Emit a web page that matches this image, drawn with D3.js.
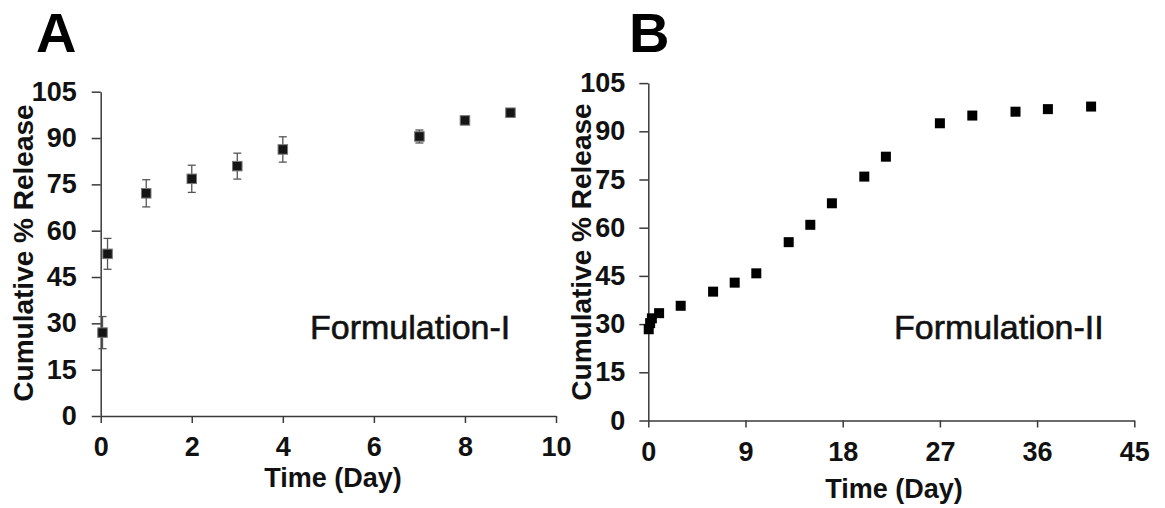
<!DOCTYPE html>
<html>
<head>
<meta charset="utf-8">
<script src="https://cdn.jsdelivr.net/npm/d3@7"></script>
<style>
  body { margin: 0; background: #fff; }
  svg { display: block; font-family: "Liberation Sans", Arial, sans-serif; }
</style>
</head>
<body>
<div class="chart"></div>
<script>
// Panel A - Formulation-I (mean with error)
const daysA = [0.04, 0.15, 1, 2, 3, 4, 7, 8, 9]
const releaseA = [27.0, 52.5, 72.1, 76.8, 80.9, 86.3, 90.5, 95.7, 98.2]
const errA = [5.2, 5.0, 4.4, 4.4, 4.2, 4.1, 2.1, 0.8, 0.6]

// Panel B - Formulation-II
const daysB = [0.04, 0.17, 0.33, 1, 3, 6, 8, 10, 13, 15, 17, 20, 22, 27, 30, 34, 37, 41]
const releaseB = [28.4, 30.3, 31.8, 33.4, 35.7, 40.1, 42.9, 45.8, 55.5, 60.9, 67.6, 75.9, 82.1, 92.5, 94.9, 96.1, 96.9, 97.7]

const yTicks = [0, 15, 30, 45, 60, 75, 90, 105]
const xTicksA = [0, 2, 4, 6, 8, 10]
const xTicksB = [0, 9, 18, 27, 36, 45]

const svgWidth = 1165
      svgHeight = 508
const svg = d3.select(".chart")
              .append('svg')
              .attr('width', svgWidth)
              .attr('height', svgHeight)

function panel(cfg) {
  const g = svg.append('g')

  const xScale = d3.scaleLinear().domain(cfg.xDomain).range(cfg.xRange)
  const yScale = d3.scaleLinear().domain([0, 105]).range(cfg.yRange)

  // x axis
  const xAxis = d3.axisBottom(xScale)
                  .tickValues(cfg.xTicks)
                  .tickSize(7)
                  .tickSizeOuter(0)
                  .tickPadding(14)
  g.append('g')
   .attr('transform', `translate(0, ${cfg.yRange[0]})`)
   .call(xAxis)

  // y axis
  const yAxis = d3.axisLeft(yScale)
                  .tickValues(yTicks)
                  .tickSize(9)
                  .tickSizeOuter(0)
                  .tickPadding(cfg.yPad)
  g.append('g')
   .attr('transform', `translate(${cfg.xRange[0]}, 0)`)
   .call(yAxis)

  g.selectAll('.domain, .tick line')
   .attr('stroke', '#3a3a3a')
   .attr('stroke-width', 1.5)
  g.selectAll('.tick text')
   .attr('fill', '#111')
   .style('font-size', '27px')
   .style('font-weight', 'bold')

  // axis titles
  g.append('text')
   .attr('x', cfg.xTitle[0])
   .attr('y', cfg.xTitle[1])
   .attr('text-anchor', 'middle')
   .style('font-size', '27px')
   .style('font-weight', 'bold')
   .attr('fill', '#111')
   .text('Time (Day)')

  g.append('text')
   .attr('transform', `translate(${cfg.yTitle[0]}, ${cfg.yTitle[1]}) rotate(-90)`)
   .attr('text-anchor', 'middle')
   .style('font-size', '28px')
   .style('font-weight', 'bold')
   .attr('fill', '#111')
   .text('Cumulative % Release')

  // panel letter
  g.append('text')
   .attr('x', cfg.letterPos[0])
   .attr('y', cfg.letterPos[1])
   .style('font-size', '56px')
   .style('font-weight', 'bold')
   .attr('fill', '#000')
   .text(cfg.letter)

  // formulation label
  g.append('text')
   .attr('x', cfg.labelPos[0])
   .attr('y', cfg.labelPos[1])
   .style('font-size', '34px')
   .attr('fill', '#111')
   .attr('stroke', '#111')
   .attr('stroke-width', 0.6)
   .text(cfg.label)

  const pts = cfg.days.map((d, i) => ({x: d, y: cfg.values[i], e: cfg.errors ? cfg.errors[i] : 0}))

  // error bars
  if (cfg.errors) {
    const eb = g.append('g')
                .attr('stroke', '#555')
                .attr('stroke-width', 1.3)
    eb.selectAll('.ebar')
      .data(pts)
      .enter()
      .append('line')
      .attr('x1', d => xScale(d.x))
      .attr('x2', d => xScale(d.x))
      .attr('y1', d => yScale(d.y - d.e))
      .attr('y2', d => yScale(d.y + d.e))
    eb.selectAll('.capTop')
      .data(pts)
      .enter()
      .append('line')
      .attr('x1', d => xScale(d.x) - 4)
      .attr('x2', d => xScale(d.x) + 4)
      .attr('y1', d => yScale(d.y + d.e))
      .attr('y2', d => yScale(d.y + d.e))
    eb.selectAll('.capBot')
      .data(pts)
      .enter()
      .append('line')
      .attr('x1', d => xScale(d.x) - 4)
      .attr('x2', d => xScale(d.x) + 4)
      .attr('y1', d => yScale(d.y - d.e))
      .attr('y2', d => yScale(d.y - d.e))
  }

  // square markers
  const s = cfg.size
  g.append('g')
   .selectAll('rect')
   .data(pts)
   .enter()
   .append('rect')
   .attr('x', d => xScale(d.x) - s / 2)
   .attr('y', d => yScale(d.y) - s / 2)
   .attr('width', s)
   .attr('height', s)
   .attr('fill', cfg.fill)
   .attr('stroke', cfg.stroke)
   .attr('stroke-width', 1)
}

panel({
  days: daysA, values: releaseA, errors: errA,
  xDomain: [0, 10], xTicks: xTicksA,
  xRange: [100.7, 556], yRange: [416, 91.7], yPad: 15,
  xTitle: [333, 487], yTitle: [33, 253],
  letter: 'A', letterPos: [36, 51.7],
  label: 'Formulation-I', labelPos: [310, 339],
  size: 9.5, fill: '#151515', stroke: '#777'
})

panel({
  days: daysB, values: releaseB, errors: null,
  xDomain: [0, 45], xTicks: xTicksB,
  xRange: [648.3, 1134.3], yRange: [420.5, 83.1], yPad: 14,
  xTitle: [894, 498], yTitle: [591, 252],
  letter: 'B', letterPos: [629, 52],
  label: 'Formulation-II', labelPos: [894, 339],
  size: 10, fill: '#000', stroke: 'none'
})
</script>
</body>
</html>
